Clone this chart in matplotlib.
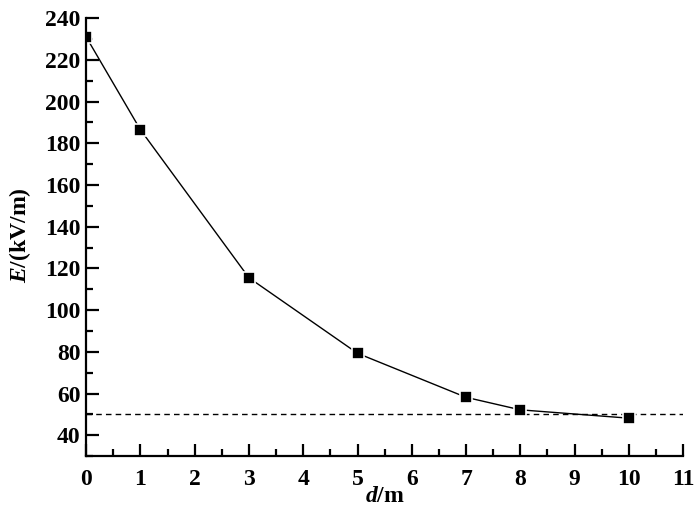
import matplotlib.pyplot as plt
from matplotlib.ticker import MultipleLocator

plt.rcParams['font.family'] = ['Liberation Serif', 'DejaVu Serif']
plt.rcParams['font.weight'] = 'bold'
plt.rcParams['mathtext.fontset'] = 'custom'
plt.rcParams['mathtext.it'] = 'Liberation Serif:italic:bold'
plt.rcParams['mathtext.rm'] = 'Liberation Serif:bold'

d = [0, 1, 3, 5, 7, 8, 10]
E = [231, 186.5, 115.5, 79.3, 58.2, 52.2, 48.2]
limite = 50

fig = plt.figure(figsize=(7, 5.16), dpi=100)
ax = fig.add_axes([0.123, 0.116, 0.853, 0.849])

ax.axhline(limite, color='k', ls=(0, (4, 3)), lw=1)
ax.plot(d, E, '-', color='k', lw=1)
ax.plot(d, E, 's', color='k', markersize=8.5, mec='white', mew=1.2)

ax.set_xlim(0, 11)
ax.set_ylim(30, 240)
ax.xaxis.set_major_locator(MultipleLocator(1))
ax.xaxis.set_minor_locator(MultipleLocator(0.5))
ax.set_yticks(range(40, 241, 20))
ax.yaxis.set_minor_locator(MultipleLocator(10))

for s in ['top', 'right']:
    ax.spines[s].set_visible(False)
for s in ['left', 'bottom']:
    ax.spines[s].set_linewidth(1.6)

ax.tick_params(which='major', direction='in', length=9, width=1.6, labelsize=17)
ax.tick_params(which='minor', direction='in', length=5, width=1.6)
ax.tick_params(axis='x', which='major', pad=9)
ax.tick_params(axis='y', which='major', pad=4)

fig.text(0.55, 0.037, r'$d$/m', fontsize=17, ha='center', va='center')
fig.text(0.028, 0.545, r'$E$/(kV/m)', fontsize=17, rotation=90, ha='center', va='center')

plt.savefig('out.png', dpi=100)
